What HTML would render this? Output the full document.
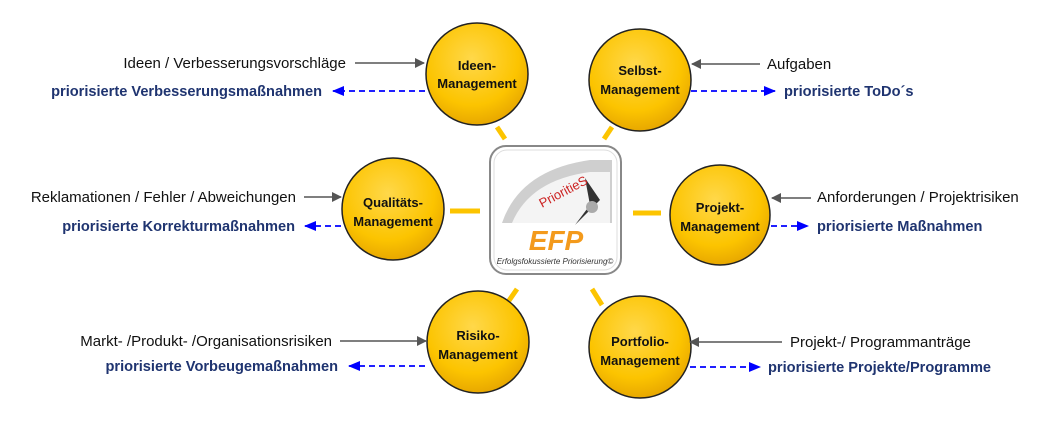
<!DOCTYPE html>
<html><head><meta charset="utf-8"><style>
html,body{margin:0;padding:0;background:#fff;width:1051px;height:429px;overflow:hidden}
svg text{font-family:"Liberation Sans",sans-serif}
.n{font-size:15px;fill:#111}
.b{font-size:14.6px;fill:#1f3470;font-weight:bold}
.c{font-size:13px;font-weight:bold;fill:#111;text-anchor:middle}
</style></head><body>
<svg width="1051" height="429" viewBox="0 0 1051 429" xmlns="http://www.w3.org/2000/svg">
<defs>
<radialGradient id="g" cx="45%" cy="35%" r="65%">
<stop offset="0" stop-color="#ffd84a"/><stop offset="0.7" stop-color="#fcc400"/><stop offset="1" stop-color="#e8a800"/>
</radialGradient>
<marker id="ag" markerWidth="10" markerHeight="10" refX="9" refY="5" orient="auto" markerUnits="userSpaceOnUse"><path d="M0,0 L10,5 L0,10 z" fill="#555"/></marker>
<marker id="ab" markerWidth="12" markerHeight="10" refX="11" refY="5" orient="auto" markerUnits="userSpaceOnUse"><path d="M0,0 L12,5 L0,10 z" fill="#0000ff"/></marker>
</defs>
<g stroke="#fcc400" stroke-width="5">
<line x1="497" y1="127" x2="505" y2="139"/>
<line x1="612" y1="127" x2="604" y2="139"/>
<line x1="450" y1="211" x2="480" y2="211"/>
<line x1="633" y1="213" x2="661" y2="213"/>
<line x1="517" y1="289" x2="508" y2="302"/>
<line x1="592" y1="289" x2="602" y2="305"/>
</g>
<rect x="490" y="146" width="131" height="128" rx="16" fill="#fff" stroke="#888" stroke-width="2"/>
<rect x="494" y="150" width="123" height="120" rx="13" fill="none" stroke="#ddd" stroke-width="1"/>
<path d="M502,223 Q520,170 590,160 L612,160 L612,223 Z" fill="#cfcfcf"/>
<path d="M512,223 Q530,180 590,172 L610,172 L610,223 Z" fill="#f4f4f4"/>
<path d="M585,178 L600,200 L575,225 L590,205 Z" fill="#333"/>
<circle cx="592" cy="207" r="6" fill="#aaa"/>
<text x="542" y="208" font-size="13" fill="#c22" font-family="Liberation Serif" transform="rotate(-28 542 208)">PrioritieS</text>
<text x="556" y="250" font-size="28" font-weight="bold" font-style="italic" fill="#f39a1c" text-anchor="middle">EFP</text>
<text x="555" y="264" font-size="8" font-style="italic" fill="#333" text-anchor="middle">Erfolgsfokussierte Priorisierung©</text>
<g stroke="#222" stroke-width="1.5" fill="url(#g)">
<circle cx="477" cy="74" r="51"/>
<circle cx="640" cy="80" r="51"/>
<circle cx="393" cy="209" r="51"/>
<circle cx="720" cy="215" r="50"/>
<circle cx="478" cy="342" r="51"/>
<circle cx="640" cy="347" r="51"/>
</g>
<text class="c" x="477" y="70">Ideen-</text><text class="c" x="477" y="88">Management</text>
<text class="c" x="640" y="75">Selbst-</text><text class="c" x="640" y="94">Management</text>
<text class="c" x="393" y="207">Qualitäts-</text><text class="c" x="393" y="226">Management</text>
<text class="c" x="720" y="212">Projekt-</text><text class="c" x="720" y="231">Management</text>
<text class="c" x="478" y="340">Risiko-</text><text class="c" x="478" y="359">Management</text>
<text class="c" x="640" y="346">Portfolio-</text><text class="c" x="640" y="365">Management</text>
<g stroke="#555" stroke-width="1.5" marker-end="url(#ag)">
<line x1="355" y1="63" x2="424" y2="63"/>
<line x1="760" y1="64" x2="692" y2="64"/>
<line x1="304" y1="197" x2="341" y2="197"/>
<line x1="811" y1="198" x2="772" y2="198"/>
<line x1="340" y1="341" x2="426" y2="341"/>
<line x1="782" y1="342" x2="690" y2="342"/>
</g>
<g stroke="#0000ff" stroke-width="1.8" stroke-dasharray="6,4" marker-end="url(#ab)">
<line x1="425" y1="91" x2="333" y2="91"/>
<line x1="691" y1="91" x2="775" y2="91"/>
<line x1="341" y1="226" x2="305" y2="226"/>
<line x1="771" y1="226" x2="808" y2="226"/>
<line x1="425" y1="366" x2="349" y2="366"/>
<line x1="690" y1="367" x2="760" y2="367"/>
</g>
<text class="n" x="346" y="68" text-anchor="end">Ideen / Verbesserungsvorschläge</text>
<text class="b" x="322" y="96" text-anchor="end">priorisierte Verbesserungsmaßnahmen</text>
<text class="n" x="767" y="69">Aufgaben</text>
<text class="b" x="784" y="96">priorisierte ToDo´s</text>
<text class="n" x="296" y="202" text-anchor="end">Reklamationen / Fehler / Abweichungen</text>
<text class="b" x="295" y="231" text-anchor="end">priorisierte Korrekturmaßnahmen</text>
<text class="n" x="817" y="202">Anforderungen / Projektrisiken</text>
<text class="b" x="817" y="231">priorisierte Maßnahmen</text>
<text class="n" x="332" y="346" text-anchor="end">Markt- /Produkt- /Organisationsrisiken</text>
<text class="b" x="338" y="371" text-anchor="end">priorisierte Vorbeugemaßnahmen</text>
<text class="n" x="790" y="347">Projekt-/ Programmanträge</text>
<text class="b" x="768" y="372">priorisierte Projekte/Programme</text>
</svg>
</body></html>
